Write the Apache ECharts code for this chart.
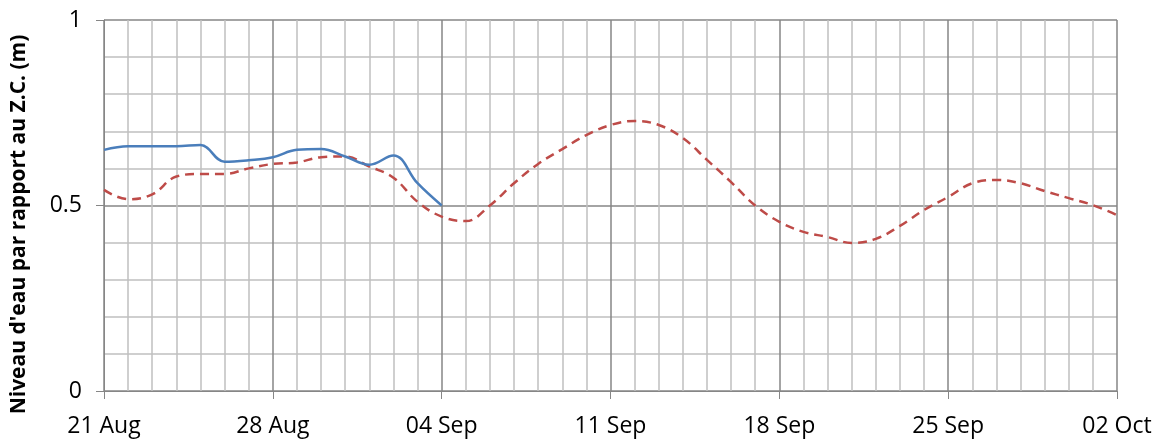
<!DOCTYPE html>
<html lang="fr">
<head>
<meta charset="UTF-8">
<title>Niveau d'eau</title>
<style>
html, body { margin: 0; padding: 0; background: #fff; }
#chart { width: 1155px; height: 441px; }
</style>
</head>
<body>
<div id="chart"></div>
<script src="https://cdn.jsdelivr.net/npm/echarts@6/dist/echarts.min.js"></script>
<script>
// jours depuis le 21 Aug
var tickLabels = ['21 Aug', '28 Aug', '04 Sep', '11 Sep', '18 Sep', '25 Sep', '02 Oct'];
var observe = [0.65, 0.66, 0.66, 0.66, 0.663, 0.618, 0.622, 0.63, 0.65, 0.652, 0.632, 0.61, 0.635, 0.56, 0.50];
var prevu = [0.542, 0.517, 0.53, 0.578, 0.585, 0.585, 0.60, 0.612, 0.616, 0.63, 0.632, 0.605, 0.575, 0.51, 0.47,
    0.458, 0.50, 0.56, 0.612, 0.652, 0.69, 0.717, 0.728, 0.717, 0.682, 0.623, 0.563, 0.50, 0.456, 0.429,
    0.415, 0.399, 0.41, 0.445, 0.488, 0.523, 0.56, 0.569, 0.56, 0.539, 0.52, 0.501, 0.474];

function pairs(arr) {
    return arr.map(function (v, i) { return [i, v]; });
}

var font = 'Open Sans, sans-serif';
var chart = echarts.init(document.getElementById('chart'));
chart.setOption({
    animation: false,
    grid: { left: 104, right: 38, top: 20, bottom: 50 },
    xAxis: {
        type: 'value',
        min: 0,
        max: 42,
        interval: 7,
        axisLine: { lineStyle: { color: '#868686', width: 1 } },
        axisTick: { show: true, length: 8, lineStyle: { color: '#868686' } },
        axisLabel: {
            margin: 24,
            fontSize: 23,
            fontFamily: font,
            color: '#000',
            formatter: function (v) { return tickLabels[v / 7] || ''; }
        },
        splitLine: { show: true, lineStyle: { color: '#868686', width: 1.5 } },
        minorTick: { show: false, splitNumber: 7 },
        minorSplitLine: { show: true, lineStyle: { color: '#c0c0c0', width: 1.5 } }
    },
    yAxis: {
        type: 'value',
        min: 0,
        max: 1,
        interval: 0.5,
        name: "Niveau d'eau par rapport au Z.C. (m)",
        nameLocation: 'middle',
        nameGap: 74,
        nameTextStyle: {
            fontSize: 21, fontWeight: 'bold', fontFamily: font, color: '#000',
            padding: [0, 38, 0, 0]
        },
        axisLine: { show: true, lineStyle: { color: '#868686', width: 1 } },
        axisTick: { show: true, length: 8, lineStyle: { color: '#868686' } },
        axisLabel: { margin: 22, fontSize: 23, fontFamily: font, color: '#000' },
        splitLine: { show: true, lineStyle: { color: '#868686', width: 1.5 } },
        minorTick: { show: false, splitNumber: 5 },
        minorSplitLine: { show: true, lineStyle: { color: '#c0c0c0', width: 1.5 } }
    },
    series: [
        {
            type: 'line',
            data: pairs(prevu),
            smooth: 0.4,
            showSymbol: false,
            lineStyle: { color: '#be4b48', width: 2.5, type: [9, 6] },
            z: 3
        },
        {
            type: 'line',
            data: pairs(observe),
            smooth: 0.4,
            showSymbol: false,
            lineStyle: { color: '#4a7ebb', width: 2.5 },
            z: 4
        }
    ]
});
</script>
</body>
</html>
